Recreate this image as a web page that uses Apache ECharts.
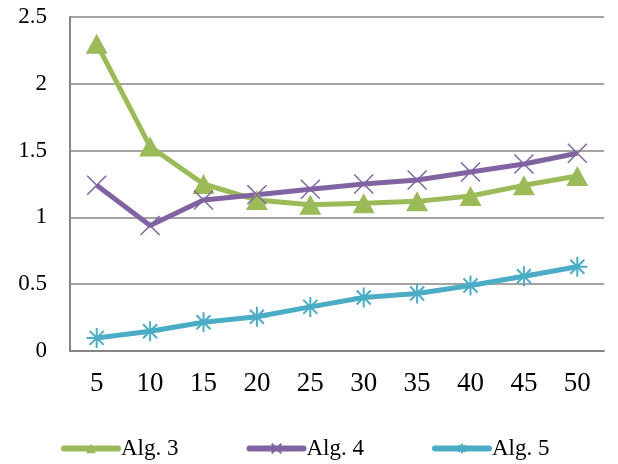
<!DOCTYPE html>
<html><head><meta charset="utf-8">
<script src="https://cdn.jsdelivr.net/npm/echarts@6/dist/echarts.min.js"></script>
<style>html,body{margin:0;padding:0;background:#fff}#c{width:618px;height:464px}</style>
</head><body><div id="c"></div>
<script>
const categories = ['5','10','15','20','25','30','35','40','45','50'];
const alg3 = [2.30, 1.53, 1.25, 1.13, 1.095, 1.105, 1.12, 1.16, 1.24, 1.31];
const alg4 = [1.24, 0.94, 1.13, 1.17, 1.21, 1.25, 1.28, 1.34, 1.40, 1.48];
const alg5 = [0.098, 0.148, 0.215, 0.256, 0.33, 0.40, 0.43, 0.49, 0.56, 0.63];
const yTicks = [0, 0.5, 1, 1.5, 2, 2.5];

const font = 'Liberation Serif';
const chart = echarts.init(document.getElementById('c'));
const crossPath = 'path://M0,0L10,10M10,0L0,10';
const starPath = 'path://M5,0L5,10M0,5L10,5M1.5,1.5L8.5,8.5M8.5,1.5L1.5,8.5';
chart.setOption({
  animation: false,
  grid: {left: 70, right: 14, top: 17, bottom: 113},
  xAxis: {
    type: 'category', data: categories, boundaryGap: true,
    axisLine: {lineStyle: {color: '#868686', width: 2}},
    axisTick: {show: false},
    axisLabel: {color: '#000', fontFamily: font, fontSize: 27, margin: 19}
  },
  yAxis: {
    type: 'value', min: 0, max: 2.5, interval: 0.5,
    axisLine: {show: true, lineStyle: {color: '#868686', width: 2}},
    axisTick: {show: false},
    splitLine: {lineStyle: {color: '#868686', width: 1.5}},
    axisLabel: {color: '#000', fontFamily: font, fontSize: 23, margin: 23,
      formatter: v => yTicks.includes(v) ? String(v) : ''}
  },
  legend: {
    bottom: 4, left: 61, padding: 0, itemGap: 68, itemWidth: 54, itemHeight: 12,
    lineStyle: {width: 6, cap: 'round'},
    textStyle: {color: '#000', fontFamily: font, fontSize: 23, padding: [0,0,0,-2]},
    data: ['Alg. 3', 'Alg. 4', 'Alg. 5']
  },
  series: [
    {name: 'Alg. 3', type: 'line', data: alg3, symbol: 'triangle', symbolSize: [22, 20],
      lineStyle: {color: '#9BBB59', width: 5}, itemStyle: {color: '#9BBB59'}},
    {name: 'Alg. 4', type: 'line', data: alg4, symbol: crossPath, symbolSize: 19,
      lineStyle: {color: '#8064A2', width: 5}, itemStyle: {color: '#8064A2', borderColor: '#8064A2', borderWidth: 1.5}},
    {name: 'Alg. 5', type: 'line', data: alg5, symbol: starPath, symbolSize: 20,
      lineStyle: {color: '#4BACC6', width: 5}, itemStyle: {color: '#4BACC6', borderColor: '#4BACC6', borderWidth: 2}}
  ]
});
</script></body></html>
